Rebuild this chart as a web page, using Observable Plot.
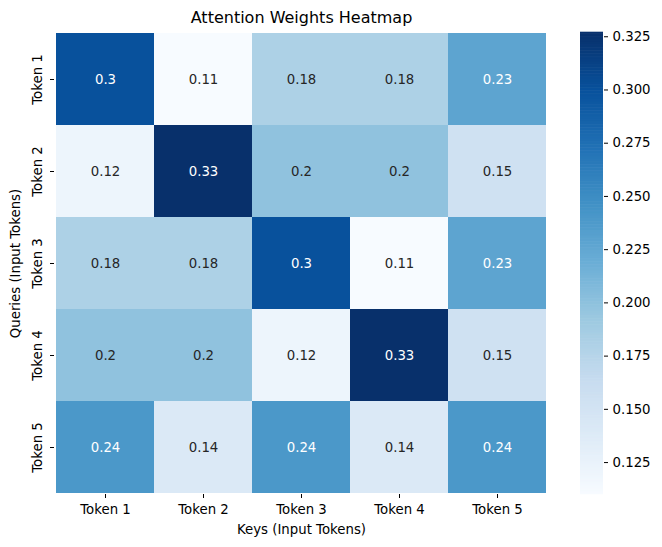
<!DOCTYPE html>
<html><head><meta charset="utf-8">
<script src="https://cdn.jsdelivr.net/npm/d3@7"></script>
<script src="https://cdn.jsdelivr.net/npm/@observablehq/plot@0.6"></script>
<style>
body{margin:0;background:#fff}
#c{position:relative;width:662px;height:547px;font-family:"DejaVu Sans",sans-serif}
#c svg{position:absolute;top:0;overflow:visible}
</style></head><body><div id="c"></div>
<script>
const tokens = ["Token 1", "Token 2", "Token 3", "Token 4", "Token 5"];
const row1 = [0.300, 0.110, 0.181, 0.181, 0.228];
const row2 = [0.121, 0.327, 0.199, 0.199, 0.154];
const row3 = [0.181, 0.181, 0.300, 0.110, 0.228];
const row4 = [0.199, 0.199, 0.121, 0.327, 0.154];
const row5 = [0.240, 0.140, 0.240, 0.140, 0.240];
const matrix = [row1, row2, row3, row4, row5];
const cbTicks = [0.125, 0.150, 0.175, 0.200, 0.225, 0.250, 0.275, 0.300, 0.325];
const blues = ["#f7fbff","#deebf7","#c6dbef","#9ecae1","#6baed6","#4292c6","#2171b5","#08519c","#08306b"];

const data = tokens.flatMap((q, i) => tokens.map((k, j) => ({query: q, key: k, value: matrix[i][j]})));
const vmin = d3.min(data, d => d.value), vmax = d3.max(data, d => d.value);
const interp = d3.piecewise(d3.interpolateRgb, blues);
const colorOpts = {type: "linear", domain: [vmin, vmax], interpolate: interp};
const fmt = d3.format(".2~g");
const fs = 13.3;
const font = {fontFamily: "DejaVu Sans", fontSize: fs + "px", color: "#000", background: "transparent"};

const main = Plot.plot({
  width: 662, height: 547,
  marginTop: 32, marginLeft: 54, marginRight: 114, marginBottom: 53,
  style: font,
  x: {domain: tokens, padding: 0, label: null},
  y: {domain: tokens, padding: 0, label: null},
  color: colorOpts,
  marks: [
    Plot.cell(data, {x: "key", y: "query", fill: "value", inset: 0, shapeRendering: "crispEdges"}),
    Plot.text(data.filter(d => d.value > 0.215), {x: "key", y: "query", text: d => fmt(d.value), fill: "#fff", fontSize: fs}),
    Plot.text(data.filter(d => d.value <= 0.215), {x: "key", y: "query", text: d => fmt(d.value), fill: "#262626", fontSize: fs}),
    Plot.axisX({tickSize: 4, tickPadding: 6, fontSize: fs, label: null}),
    Plot.axisY({tickSize: 4, tickPadding: 9, tickRotate: -90, fontSize: fs, label: null}),
    Plot.text(["Attention Weights Heatmap"], {frameAnchor: "top", dy: -15, lineAnchor: "middle", textAnchor: "middle", fontSize: 16}),
    Plot.text(["Keys (Input Tokens)"], {frameAnchor: "bottom", dy: 35, lineAnchor: "middle", textAnchor: "middle", fontSize: fs}),
    Plot.text(["Queries (Input Tokens)"], {frameAnchor: "left", dx: -39, rotate: -90, lineAnchor: "middle", textAnchor: "middle", fontSize: fs})
  ]
});

const n = 300;
const stops = d3.range(n).map(i => ({y1: vmin + (vmax - vmin) * i / n, y2: vmin + (vmax - vmin) * (i + 1) / n}));
const cb = Plot.plot({
  width: 82, height: 547,
  marginTop: 32, marginBottom: 53, marginLeft: 0, marginRight: 59,
  style: font,
  y: {domain: [vmin, vmax], label: null},
  color: colorOpts,
  marks: [
    Plot.rect(stops, {y1: "y1", y2: "y2", fill: d => (d.y1 + d.y2) / 2, insetTop: -0.3, insetBottom: -0.3}),
    Plot.axisY({anchor: "right", ticks: cbTicks, tickSize: 4, tickPadding: 5, tickFormat: d3.format(".3f"), fontSize: fs, label: null})
  ]
});
const c = document.getElementById("c");
main.style.left = "0px";
cb.style.left = "580px";
c.appendChild(main);
c.appendChild(cb);
</script></body></html>
